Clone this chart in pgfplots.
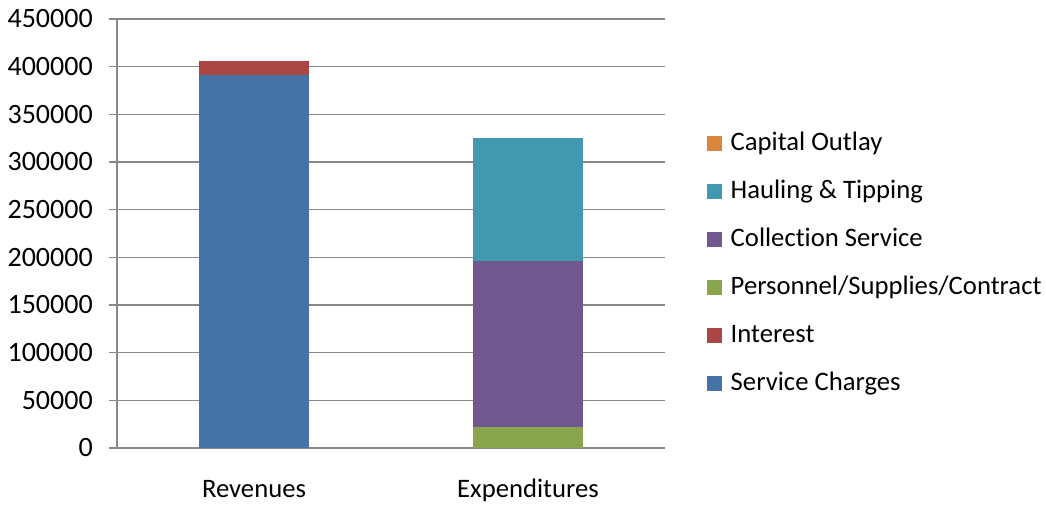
\documentclass[border=0pt]{standalone}
\usepackage{pgfplots}
\pgfplotsset{compat=1.18}
\usepackage{fontspec}
\setmainfont{Carlito}[Ligatures=NoCommon]
\definecolor{cSC}{HTML}{4572A7}
\definecolor{cIN}{HTML}{AA4643}
\definecolor{cPE}{HTML}{89A54E}
\definecolor{cCO}{HTML}{71588F}
\definecolor{cHA}{HTML}{4198AF}
\definecolor{cCA}{HTML}{DB843D}
\definecolor{gridc}{HTML}{888888}
\begin{document}
\begin{tikzpicture}
\begin{axis}[
  width=411pt, height=321.75pt, scale only axis,
  ybar stacked, bar width=0.4,
  xmin=-0.5, xmax=1.5,
  ymin=0, ymax=450000,
  ytick distance=50000,
  scaled y ticks=false,
  /pgf/number format/fixed,
  /pgf/number format/1000 sep={},
  /pgf/number format/assume math mode=true,
  xtick={0,1},
  xticklabels={Revenues,Expenditures},
  xtick style={draw=none},
  extra x ticks={-0.5,0.5,1.5},
  extra x tick labels={},
  extra x tick style={major tick length=6pt, tick align=outside, tick style={draw=gridc, line width=1pt}, grid=none},
  axis x line*=bottom, axis y line*=left,
  axis line style={draw=gridc, line width=1pt, -},
  ymajorgrids, grid style={draw=gridc, line width=1pt},
  ytick style={draw=gridc, line width=1pt},
  major tick length=6pt, tick align=outside,
  font=\fontsize{20}{24}\selectfont,
  xticklabel style={font=\fontsize{20}{24}\selectfont, anchor=base, inner sep=0pt, yshift=-31.5pt},
  yticklabel style={font=\fontsize{21}{25}\selectfont, inner sep=0pt, xshift=-12pt},
  reverse legend,
  legend style={draw=none, fill=none, at={(1.069,0.429)}, anchor=west,
    font=\fontsize{20}{24}\selectfont,
    nodes={inner sep=0pt, text height=14pt, text depth=4pt, anchor=west},
    row sep=18pt,
    /tikz/every odd column/.append style={column sep=6.5pt}},
  legend cell align=left,
  legend image code/.code={\fill[#1, draw=none] (0pt,-5.6pt) rectangle (11.25pt,5.6pt);},
  clip=false,
]
\addplot[fill=cSC, draw=none] coordinates {(0,391000) (1,0)};
\addplot[fill=cIN, draw=none] coordinates {(0,15000) (1,0)};
\addplot[fill=cPE, draw=none] coordinates {(0,0) (1,22000)};
\addplot[fill=cCO, draw=none] coordinates {(0,0) (1,174000)};
\addplot[fill=cHA, draw=none] coordinates {(0,0) (1,129000)};
\addplot[fill=cCA, draw=none] coordinates {(0,0) (1,0)};
\legend{Service Charges,Interest,Personnel/Supplies/Contract,Collection Service,Hauling \& Tipping,Capital Outlay}
\coordinate (O) at (rel axis cs:0,0);
\end{axis}
\pgfresetboundingbox
\path[use as bounding box] ([shift={(-87.75pt,-43.5pt)}]O) rectangle ++(784.5pt,379.5pt);
\end{tikzpicture}
\end{document}
